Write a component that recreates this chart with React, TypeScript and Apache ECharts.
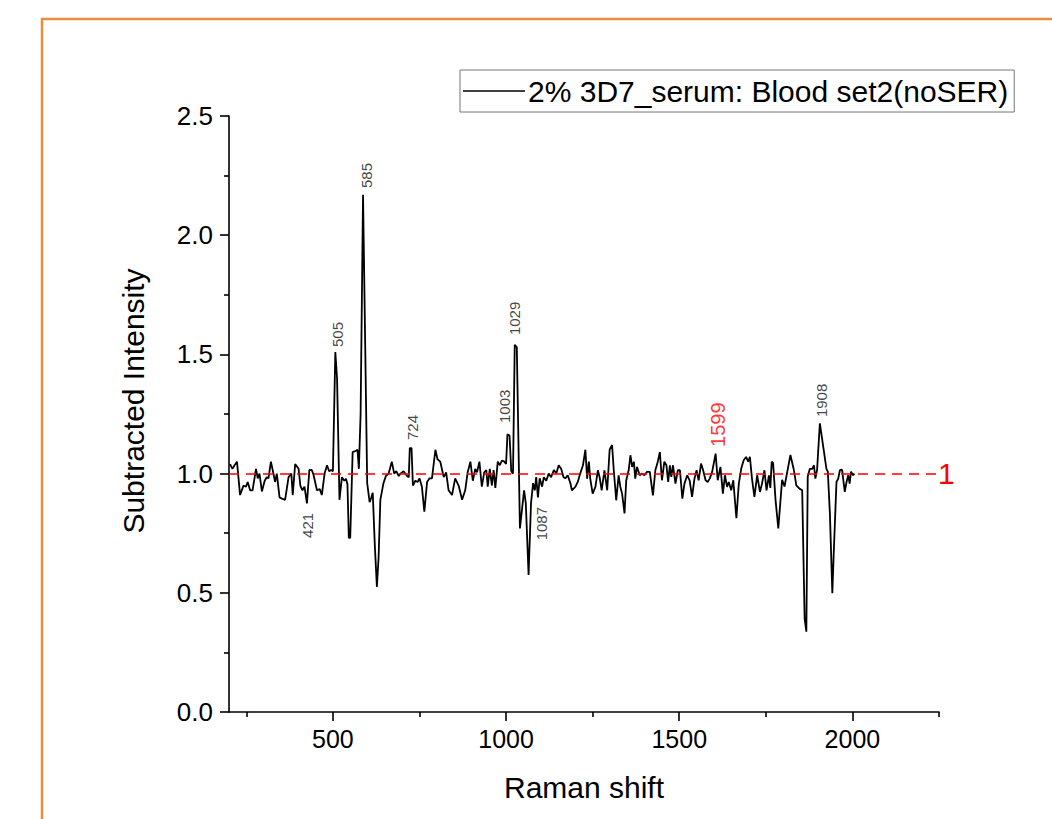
import React, { useEffect, useRef } from "react";
import * as echarts from "echarts";

// Raman shift (cm-1) and subtracted intensity
const ramanShift = [
  203, 210, 216, 223, 232, 242, 249, 254, 261, 268, 278, 283, 288, 295, 303, 309, 314, 321, 329, 333,
  338, 346, 353, 362, 372, 380, 384, 391, 401, 406, 412, 418, 425, 432, 439, 444, 454, 462, 468, 476,
  483, 489, 495, 500, 507, 512, 519, 526, 533, 538, 542, 546, 550, 557, 565, 571, 575, 580, 587, 599,
  606, 611, 615, 621, 627, 632, 637, 646, 653, 661, 670, 677, 683, 690, 695, 704, 714, 719, 722, 727,
  731, 738, 745, 750, 757, 764, 772, 779, 786, 796, 802, 810, 820, 827, 834, 844, 853, 863, 873, 882,
  889, 897, 904, 911, 916, 923, 930, 937, 943, 947, 953, 959, 964, 969, 976, 982, 988, 995, 1000, 1004,
  1010, 1015, 1020, 1025, 1031, 1040, 1052, 1057, 1065, 1072, 1078, 1083, 1087, 1092, 1097, 1104, 1109, 1116, 1123, 1130,
  1138, 1145, 1152, 1159, 1166, 1171, 1178, 1186, 1190, 1200, 1207, 1214, 1222, 1229, 1234, 1239, 1243, 1250, 1258, 1265,
  1270, 1276, 1284, 1292, 1299, 1306, 1311, 1318, 1325, 1330, 1335, 1342, 1347, 1354, 1359, 1364, 1369, 1373, 1378, 1386,
  1393, 1399, 1407, 1415, 1424, 1431, 1438, 1444, 1450, 1457, 1463, 1468, 1473, 1477, 1482, 1489, 1496, 1502, 1509, 1515,
  1523, 1530, 1537, 1544, 1550, 1556, 1563, 1569, 1576, 1582, 1588, 1595, 1605, 1611, 1619, 1626, 1632, 1638, 1643, 1650,
  1656, 1665, 1672, 1679, 1686, 1693, 1699, 1704, 1710, 1717, 1725, 1733, 1739, 1746, 1752, 1759, 1763, 1767, 1771, 1778,
  1786, 1797, 1804, 1812, 1821, 1831, 1838, 1847, 1855, 1862, 1867, 1871, 1877, 1884, 1889, 1893, 1898, 1906, 1915, 1925,
  1929, 1935, 1942, 1946, 1954, 1959, 1964, 1970, 1978, 1983, 1988, 1992, 1996, 2002, 2006,
];

const intensity = [
  1.04, 1.02, 1.035, 1.05, 0.91, 0.95, 0.945, 0.965, 0.93, 0.93, 1.02, 0.98, 1.0, 0.925, 0.97, 0.985, 0.98, 1.05, 0.995, 0.965,
  1.0, 0.9, 0.895, 0.89, 0.985, 1.0, 0.91, 1.04, 1.02, 0.95, 0.93, 0.945, 0.875, 1.015, 1.015, 0.995, 0.93, 0.935, 0.91, 1.0,
  1.035, 1.01, 1.015, 1.01, 1.51, 1.4, 0.89, 0.985, 0.97, 0.978, 0.955, 0.73, 0.73, 1.09, 1.095, 1.1, 1.02, 1.25, 2.17, 0.96,
  0.88, 0.9, 0.92, 0.7, 0.525, 0.65, 0.89, 0.96, 0.99, 1.0, 1.05, 1.0, 1.01, 0.99, 1.0, 1.01, 0.99, 0.985, 1.107, 1.107,
  0.95, 0.97, 0.965, 0.98, 0.945, 0.84, 0.965, 0.98, 0.98, 1.1, 1.06, 1.05, 0.985, 1.005, 0.93, 0.91, 0.98, 0.95, 0.89, 0.93,
  1.005, 1.05, 0.97, 1.02, 1.005, 1.05, 0.945, 1.005, 1.015, 0.945, 1.02, 0.95, 1.015, 0.94, 1.05, 1.035, 1.055, 1.05, 1.04, 1.165,
  1.16, 1.01, 1.0, 1.54, 1.53, 0.77, 0.93, 0.875, 0.575, 0.875, 0.96, 0.93, 0.985, 0.9, 0.98, 0.945, 0.985, 0.97, 1.0, 0.985,
  1.015, 1.0, 1.035, 1.02, 0.985, 0.98, 0.993, 0.958, 0.93, 0.944, 0.965, 1.0, 1.035, 1.1, 0.979, 1.05, 0.979, 0.916, 0.944, 1.014,
  0.986, 0.93, 1.014, 0.93, 1.1, 1.12, 1.014, 0.888, 0.993, 0.944, 0.916, 0.833, 0.972, 1.014, 1.077, 1.028, 1.05, 0.979, 1.028, 0.993,
  1.0, 0.993, 1.007, 1.007, 0.909, 1.014, 1.05, 1.09, 0.972, 1.05, 1.035, 0.965, 1.035, 0.986, 1.035, 0.958, 1.014, 1.014, 0.895, 0.958,
  0.993, 0.972, 0.902, 0.979, 1.014, 0.972, 1.042, 1.014, 0.972, 0.965, 0.979, 1.007, 1.084, 0.972, 1.028, 0.916, 0.993, 0.944, 0.965, 0.93,
  0.972, 0.813, 0.958, 1.021, 1.056, 1.07, 1.05, 1.07, 0.979, 0.902, 0.993, 0.923, 0.958, 1.014, 0.93, 0.993, 0.94, 1.05, 1.045, 0.89,
  0.77, 0.974, 0.946, 1.008, 1.078, 1.015, 0.951, 0.937, 0.93, 0.393, 0.337, 0.987, 1.02, 1.02, 1.035, 0.979, 1.015, 1.211, 1.12, 1.02,
  1.008, 0.832, 0.498, 0.664, 0.965, 0.979, 1.015, 1.017, 0.923, 0.965, 0.993, 0.958, 1.008, 0.993, 1.0,
];

// Peak annotations: text, anchor position (Raman shift, intensity), direction
const peakLabels = ["421", "505", "585", "724", "1003", "1029", "1087", "1599", "1908"];
const peakLabelX = [426, 512, 598, 731, 996, 1023, 1102, 1612, 1911];
const peakLabelY = [0.835, 1.531, 2.198, 1.141, 1.212, 1.581, 0.86, 1.112, 1.237];
const peakLabelBelow = [true, false, false, false, false, false, true, false, false];
const peakLabelRed = [false, false, false, false, false, false, false, true, false];

const xMajorTicks = [500, 1000, 1500, 2000];
const xMinorTicks = [250, 750, 1250, 1750, 2250];
const referenceLevel = 1;
const seriesName = "2% 3D7_serum: Blood set2(noSER)";

const FONT = '"Liberation Sans", Arial, Helvetica, sans-serif';

export default function App() {
  const ref = useRef<HTMLDivElement>(null);

  useEffect(() => {
    if (!ref.current) return;
    const chart = echarts.init(ref.current, null, { renderer: "svg" });

    const lineData = ramanShift.map((x, i) => [x, intensity[i]]);
    const labelData = peakLabels.map((t, i) => ({
      name: t,
      value: [peakLabelX[i], peakLabelY[i]],
      label: {
        show: true,
        formatter: t,
        rotate: 90,
        position: "inside",
        align: peakLabelBelow[i] ? "right" : "left",
        verticalAlign: "middle",
        color: peakLabelRed[i] ? "#ff0000" : "#111",
        fontSize: peakLabelRed[i] ? 20 : 15,
        fontFamily: FONT,
      },
    }));

    const axisLineStyle = { color: "#000", width: 1.6 };

    chart.setOption({
      animation: false,
      backgroundColor: "#fff",
      textStyle: { fontFamily: FONT },
      grid: { left: 229, right: 113, top: 116, bottom: 107 },
      legend: {
        data: [seriesName],
        left: 460,
        top: 70,
        icon: "rect",
        itemWidth: 62,
        itemHeight: 1.5,
        padding: [6, 6, 6, 3],
        borderColor: "#777",
        borderWidth: 1,
        backgroundColor: "#fff",
        textStyle: { fontSize: 30, color: "#000", fontFamily: FONT, padding: [0, 0, 0, -2] },
      },
      graphic: [
        {
          type: "polyline",
          shape: { points: [[42, 819], [42, 19], [1052, 19]] },
          style: { stroke: "#EE8B3C", lineWidth: 2.5, fill: "none" },
          silent: true,
        },
      ],
      xAxis: [
        {
          type: "value",
          min: 200,
          max: 2250,
          position: "bottom",
          axisLine: { show: true, onZero: false, lineStyle: axisLineStyle },
          axisTick: { show: true, customValues: xMajorTicks, length: 9, lineStyle: axisLineStyle },
          axisLabel: {
            show: true,
            customValues: xMajorTicks,
            fontSize: 25,
            color: "#000",
            margin: 14,
            formatter: (v: number) => String(v),
          },
          splitLine: { show: false },
          name: "Raman shift",
          nameLocation: "middle",
          nameGap: 60,
          nameTextStyle: { fontSize: 30, color: "#000" },
        },
        {
          type: "value",
          min: 200,
          max: 2250,
          position: "bottom",
          axisLine: { show: false, onZero: false },
          axisTick: { show: true, customValues: xMinorTicks, length: 5, lineStyle: axisLineStyle },
          axisLabel: { show: false },
          splitLine: { show: false },
        },
      ],
      yAxis: {
        type: "value",
        min: 0,
        max: 2.5,
        interval: 0.5,
        axisLine: { show: true, onZero: false, lineStyle: axisLineStyle },
        axisTick: { show: true, length: 9, lineStyle: axisLineStyle },
        minorTick: { show: true, splitNumber: 2, length: 5, lineStyle: axisLineStyle },
        axisLabel: { fontSize: 26, color: "#000", margin: 16, formatter: (v: number) => v.toFixed(1) },
        splitLine: { show: false },
        name: "Subtracted Intensity",
        nameLocation: "middle",
        nameGap: 81,
        nameTextStyle: { fontSize: 30, color: "#000", padding: [0, 0, 0, 26] },
      },
      series: [
        {
          name: seriesName,
          type: "line",
          data: lineData,
          symbol: "none",
          lineStyle: { color: "#000", width: 1.8 },
          itemStyle: { color: "#000" },
          markLine: {
            silent: true,
            symbol: "none",
            data: [{ yAxis: referenceLevel }],
            lineStyle: { color: "#ff0000", type: [10, 7], width: 1.5 },
            label: { show: true, position: "end", formatter: "1", color: "#ff0000", fontSize: 30, distance: -1 },
          },
          z: 3,
        },
        {
          name: "peaks",
          type: "scatter",
          data: labelData,
          symbolSize: 1,
          itemStyle: { color: "rgba(0,0,0,0)" },
          silent: true,
          z: 4,
        },
      ],
    });

    return () => chart.dispose();
  }, []);

  return (
    <div
      ref={ref}
      style={{ position: "absolute", left: 0, top: 0, width: 1052, height: 819 }}
    />
  );
}
